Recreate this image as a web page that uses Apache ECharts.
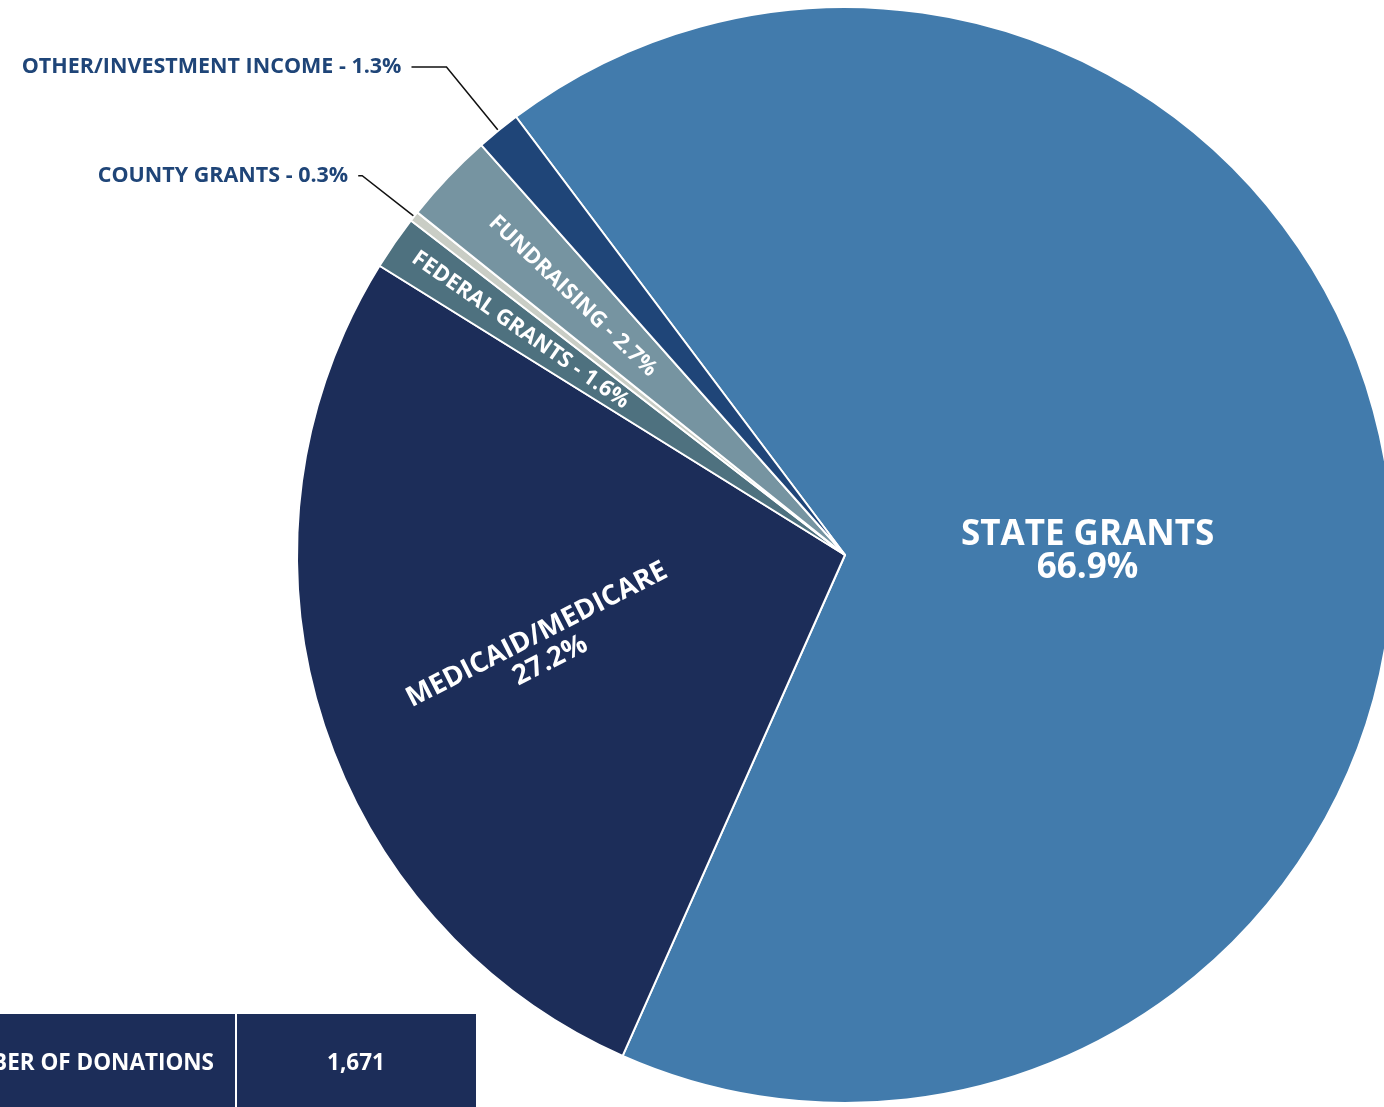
<!DOCTYPE html>
<html>
<head>
<meta charset="utf-8">
<script src="https://cdn.jsdelivr.net/npm/echarts@6/dist/echarts.min.js"></script>
<style>html,body{margin:0;padding:0;background:#fff}#c{width:1384px;height:1107px}</style>
</head>
<body>
<div id="c"></div>
<script>
const categories = ['STATE GRANTS', 'MEDICAID/MEDICARE', 'FEDERAL GRANTS', 'COUNTY GRANTS', 'FUNDRAISING', 'OTHER/INVESTMENT INCOME'];
const shares = [66.9, 27.2, 1.6, 0.3, 2.7, 1.3];
const sliceColors = ['#427BAC', '#1C2D59', '#4E717F', '#C9CDC5', '#7694A1', '#1F4578'];
const tableLabel = 'NUMBER OF DONATIONS';
const tableValue = '1,671';

const FONT = '"Open Sans", "Noto Sans", sans-serif';
const CENTER = [845, 555];
const R = 548;
const START = 126.9;

const chart = echarts.init(document.getElementById('c'), null, {renderer: 'canvas'});

const baseData = categories.map((n, i) => ({
  name: n, value: shares[i],
  itemStyle: {color: sliceColors[i]},
  label: {show: false}, labelLine: {show: false}
}));

const outsideCfg = {
  'OTHER/INVESTMENT INCOME': {length: 82, length2: 35},
  'COUNTY GRANTS': {length: 66, length2: 4}
};
const mainData = baseData.map(d => {
  const o = outsideCfg[d.name];
  if (!o) return d;
  return Object.assign({}, d, {
    label: {show: true, position: 'outside', formatter: '{b} - {c}%', color: '#1F4578',
      fontFamily: FONT, fontWeight: 'bold', fontSize: 21.5, distanceToLabelLine: 10},
    labelLine: {show: true, length: o.length, length2: o.length2, lineStyle: {color: '#111', width: 1.5}}
  });
});

function labelSeries(innerR, outerR, names, labelOpts, dy) {
  return {
    type: 'pie', center: CENTER, radius: [innerR, outerR], startAngle: START,
    silent: true, avoidLabelOverlap: false, z: 5,
    itemStyle: {color: 'rgba(0,0,0,0)', borderWidth: 0},
    emphasis: {disabled: true},
    labelLayout: dy ? function () { return {dy: dy}; } : null,
    data: categories.map((n, i) => ({
      name: n, value: shares[i],
      label: names.includes(n) ? Object.assign({show: true, position: 'inside', color: '#fff',
        fontFamily: FONT, fontWeight: 'bold'}, labelOpts) : {show: false},
      labelLine: {show: false}
    }))
  };
}

chart.setOption({
  animation: false,
  backgroundColor: '#fff',
  series: [
    {
      type: 'pie', center: CENTER, radius: [0, R], startAngle: START,
      avoidLabelOverlap: false, silent: true,
      itemStyle: {borderColor: '#fff', borderWidth: 2},
      emphasis: {disabled: true},
      data: mainData
    },
    labelSeries(0, R * 0.88, ['STATE GRANTS'], {formatter: '{b}\n{c}%', fontSize: 35, lineHeight: 33}, 24),
    labelSeries(R * 0.14, R, ['MEDICAID/MEDICARE'], {formatter: '{b}\n{c}%', fontSize: 27.5, lineHeight: 29, rotate: 27}),
    labelSeries(R * 0.43, R, ['FEDERAL GRANTS'], {formatter: '{b} - {c}%', fontSize: 22, rotate: 'radial'}),
    labelSeries(R * 0.36, R, ['FUNDRAISING'], {formatter: '{b} - {c}%', fontSize: 22, rotate: 'radial'})
  ],
  graphic: [
    {type: 'rect', shape: {x: 0, y: 1014, width: 476, height: 93}, style: {fill: '#1C2D59'}},
    {type: 'line', shape: {x1: 236, y1: 1014, x2: 236, y2: 1107}, style: {stroke: '#fff', lineWidth: 2}},
    {type: 'text', x: 214, y: 1064, style: {text: tableLabel, fill: '#fff', font: 'bold 22.5px ' + FONT, align: 'right', verticalAlign: 'middle'}},
    {type: 'text', x: 356, y: 1064, style: {text: tableValue, fill: '#fff', font: 'bold 22.5px ' + FONT, align: 'center', verticalAlign: 'middle'}}
  ]
});
</script>
</body>
</html>
